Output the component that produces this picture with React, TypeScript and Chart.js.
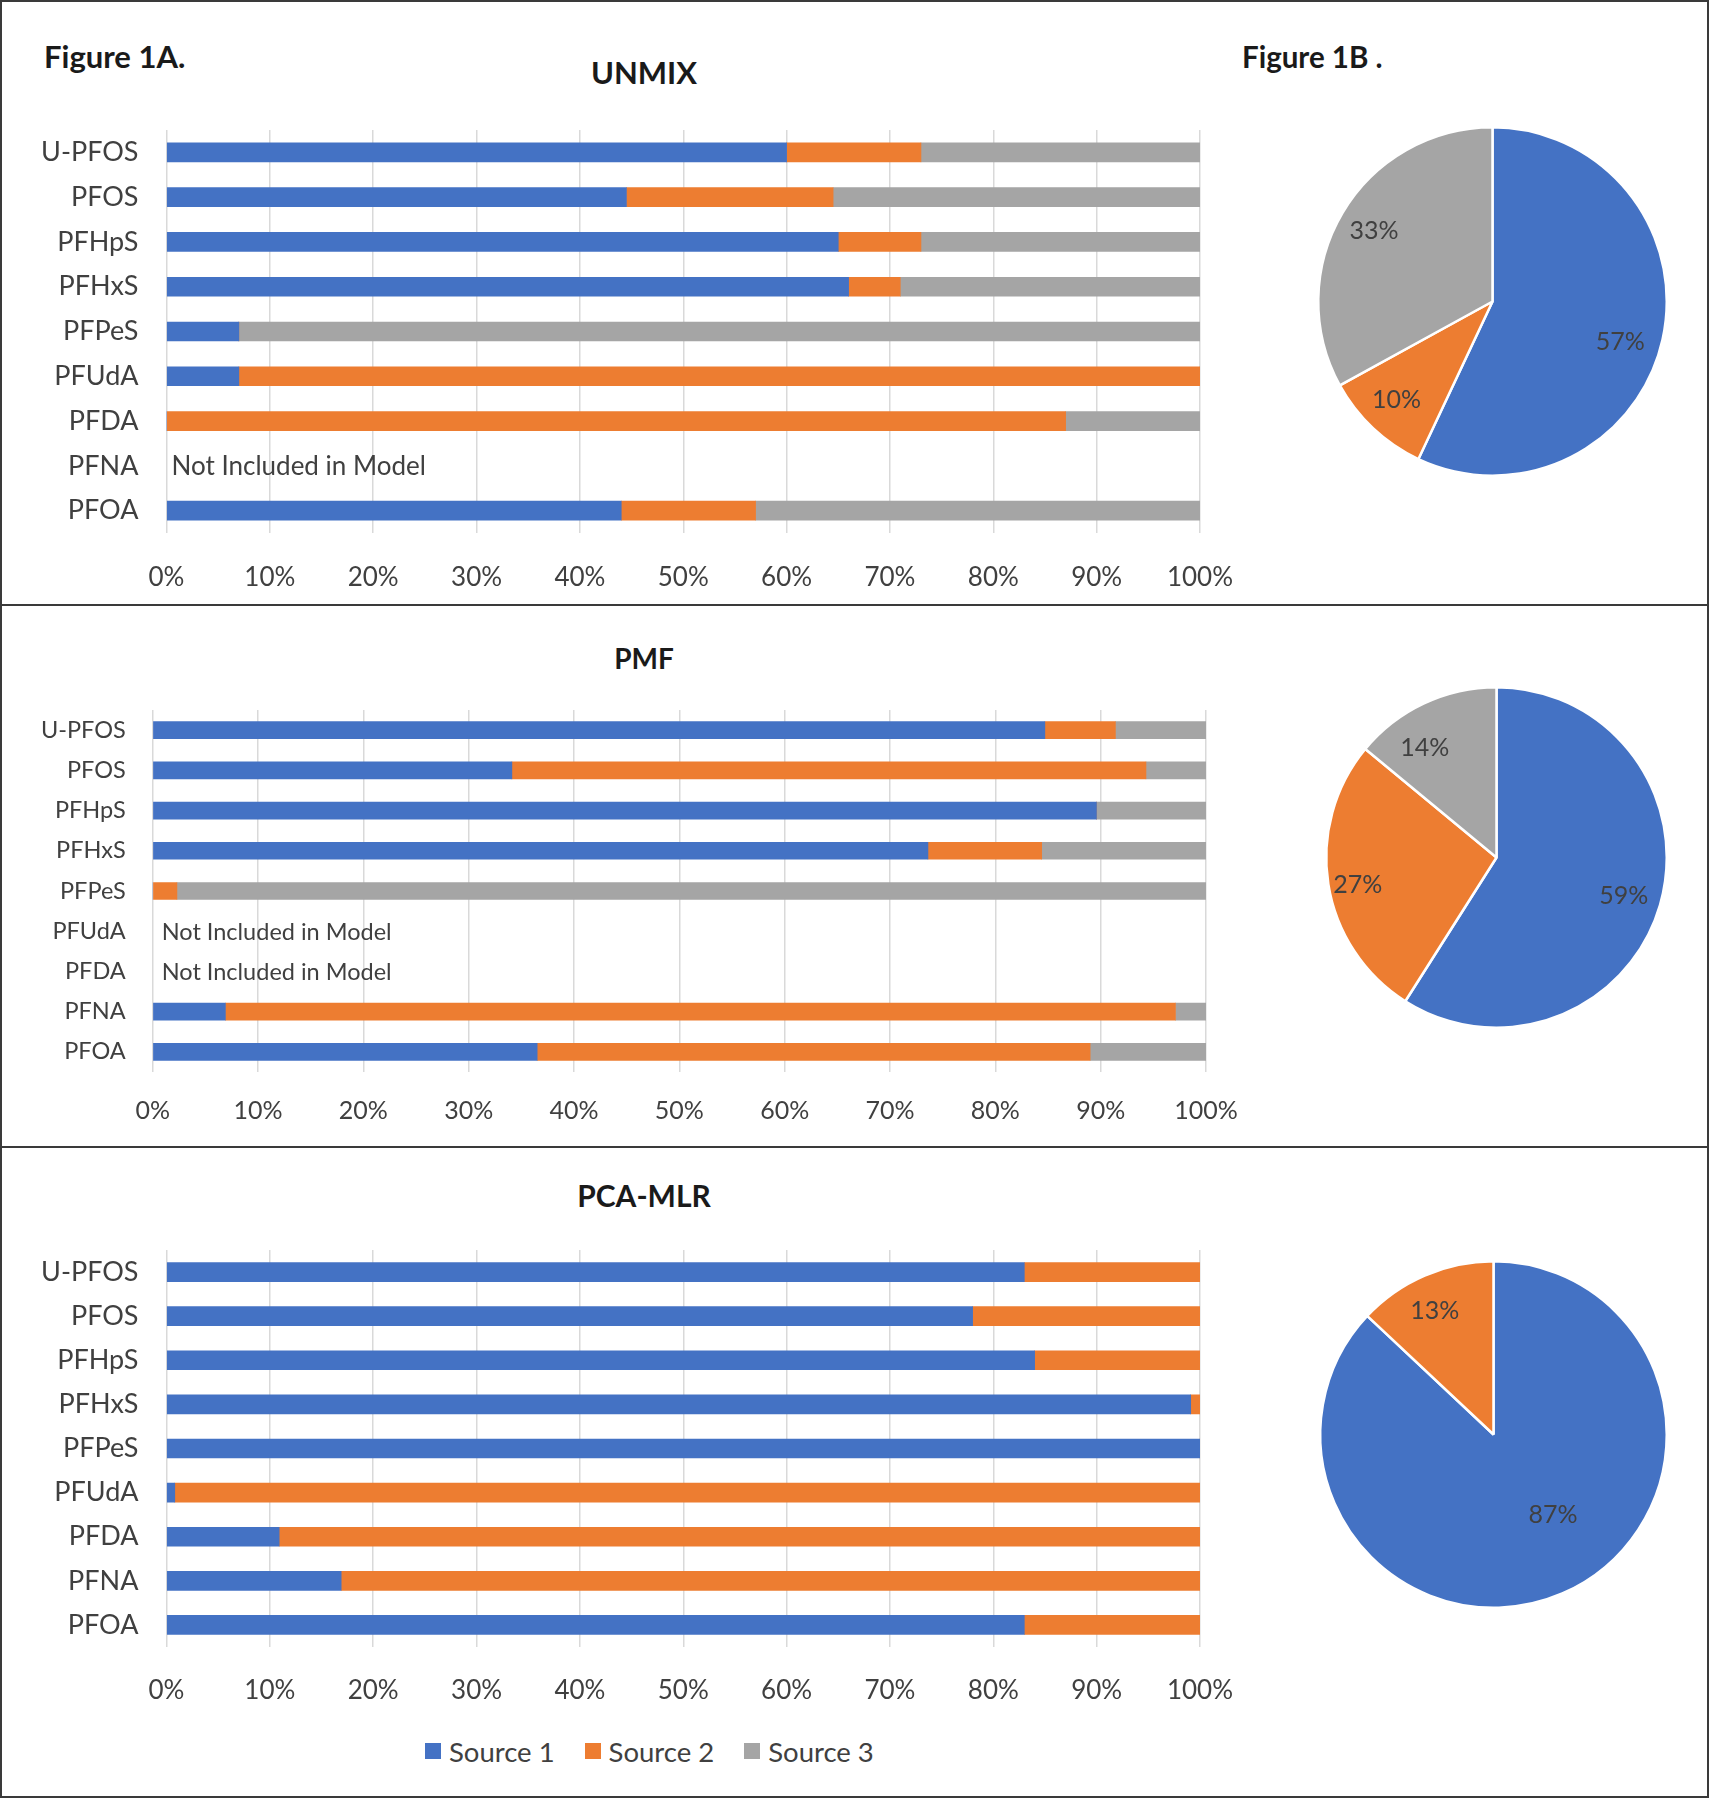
import React, { useEffect, useRef } from 'react';
import { Chart, registerables } from 'chart.js';

Chart.register(...registerables);

// ---------- DATA ----------
const categories = ['U-PFOS', 'PFOS', 'PFHpS', 'PFHxS', 'PFPeS', 'PFUdA', 'PFDA', 'PFNA', 'PFOA'];
const sourceNames = ['Source 1', 'Source 2', 'Source 3'];
const sourceColors = ['#4472C4', '#ED7D31', '#A5A5A5'];
const notIncludedText = 'Not Included in Model';

// UNMIX (percent of each compound)
const unmixSource1 = [60, 44.5, 65, 66, 7, 7, 0, null, 44];
const unmixSource2 = [13, 20, 8, 5, 0, 93, 87, null, 13];
const unmixSource3 = [27, 35.5, 27, 29, 93, 0, 13, null, 43];
const unmixNotIncluded = ['PFNA'];
const unmixPie = [57, 10, 33];

// PMF
const pmfSource1 = [84.7, 34.1, 89.6, 73.6, 0, null, null, 6.9, 36.5];
const pmfSource2 = [6.7, 60.2, 0, 10.8, 2.3, null, null, 90.2, 52.5];
const pmfSource3 = [8.6, 5.7, 10.4, 15.6, 97.7, null, null, 2.9, 11];
const pmfNotIncluded = ['PFUdA', 'PFDA'];
const pmfPie = [59, 27, 14];

// PCA-MLR
const pcaSource1 = [83, 78, 84, 99.1, 100, 0.8, 10.9, 16.9, 83];
const pcaSource2 = [17, 22, 16, 0.9, 0, 99.2, 89.1, 83.1, 17];
const pcaNotIncluded: string[] = [];
const pcaPie = [87, 13];

const FONT = 'Lato, "Open Sans", sans-serif';
const TEXT = '#404040';

type BarSpec = {
  series: (number | null)[][];
  notIncluded: string[];
  chartLeft: number;
  chartRight: number;
  chartTop: number;
  chartH: number;
  labelSize: number;
  tickSize: number;
  xPad: number;
  yPad: number;
  barThickness: number;
  noteSize: number;
  noteOffset: number;
};

const PAD_TOP = 10;
const PAD_RIGHT = 44;
const X_AXIS_H = 80;

function makeBarConfig(s: BarSpec): any {
  const notePlugin = {
    id: 'notIncludedNote',
    afterDatasetsDraw(chart: any) {
      const { ctx, chartArea, scales } = chart;
      ctx.save();
      ctx.font = `${s.noteSize}px ${FONT}`;
      ctx.fillStyle = TEXT;
      ctx.textBaseline = 'middle';
      ctx.textAlign = 'left';
      s.notIncluded.forEach((lab) => {
        const i = categories.indexOf(lab);
        const y = scales.y.getPixelForValue(i);
        ctx.fillText(notIncludedText, chartArea.left + s.noteOffset, y + 1);
      });
      ctx.restore();
    },
  };
  return {
    type: 'bar',
    data: {
      labels: categories,
      datasets: s.series.map((d, i) => ({
        label: sourceNames[i],
        data: d,
        backgroundColor: sourceColors[i],
        borderWidth: 0,
        barThickness: s.barThickness,
      })),
    },
    options: {
      indexAxis: 'y',
      responsive: false,
      animation: false,
      events: [],
      layout: { padding: { top: PAD_TOP, right: PAD_RIGHT, left: 0, bottom: 0 } },
      plugins: { legend: { display: false }, tooltip: { enabled: false }, title: { display: false } },
      scales: {
        x: {
          stacked: true,
          min: 0,
          max: 100,
          ticks: {
            stepSize: 10,
            callback: (v: any) => v + '%',
            color: TEXT,
            font: { family: FONT, size: s.tickSize },
            padding: s.xPad,
            maxRotation: 0,
            autoSkip: false,
          },
          grid: { color: '#D9D9D9', lineWidth: 1.5, drawTicks: false },
          border: { display: false },
          afterFit: (sc: any) => {
            sc.height = X_AXIS_H;
            sc.paddingLeft = 0;
            sc.paddingRight = 0;
          },
        },
        y: {
          stacked: true,
          ticks: {
            color: TEXT,
            font: { family: FONT, size: s.labelSize },
            padding: s.yPad,
            autoSkip: false,
          },
          grid: { display: false, drawTicks: false },
          border: { display: false },
          afterFit: (sc: any) => {
            sc.width = s.chartLeft;
            sc.paddingTop = 0;
            sc.paddingBottom = 0;
          },
        },
      },
    },
    plugins: [notePlugin],
  };
}

type PieSpec = {
  values: number[];
  cx: number;
  cy: number;
  r: number;
  labelRadius: number[];
  labelShiftDeg: number[];
  labelSize: number;
};

const PIE_BORDER = 2.5;

function makePieConfig(p: PieSpec): any {
  const labelPlugin = {
    id: 'pieLabels',
    afterDatasetsDraw(chart: any) {
      const { ctx } = chart;
      const meta = chart.getDatasetMeta(0);
      ctx.save();
      ctx.font = `${p.labelSize}px ${FONT}`;
      ctx.fillStyle = TEXT;
      ctx.textAlign = 'center';
      ctx.textBaseline = 'middle';
      meta.data.forEach((arc: any, i: number) => {
        const { startAngle, endAngle, outerRadius, x, y } = arc.getProps(['startAngle', 'endAngle', 'outerRadius', 'x', 'y'], true);
        const mid = (startAngle + endAngle) / 2 + (p.labelShiftDeg[i] * Math.PI) / 180;
        const rr = outerRadius * p.labelRadius[i];
        ctx.fillText(p.values[i] + '%', x + Math.cos(mid) * rr, y + Math.sin(mid) * rr);
      });
      ctx.restore();
    },
  };
  return {
    type: 'pie',
    data: {
      labels: sourceNames.slice(0, p.values.length),
      datasets: [
        {
          data: p.values,
          backgroundColor: sourceColors.slice(0, p.values.length),
          borderColor: '#FFFFFF',
          borderWidth: PIE_BORDER,
        },
      ],
    },
    options: {
      responsive: false,
      animation: false,
      events: [],
      layout: { padding: 10 },
      plugins: { legend: { display: false }, tooltip: { enabled: false } },
    },
    plugins: [labelPlugin],
  };
}

function ChartCanvas({ config, left, top, width, height }: { config: () => any; left: number; top: number; width: number; height: number }) {
  const ref = useRef<HTMLCanvasElement>(null);
  useEffect(() => {
    const chart = new Chart(ref.current as HTMLCanvasElement, config());
    return () => chart.destroy();
  }, []);
  return (
    <canvas
      ref={ref}
      width={width}
      height={height}
      style={{ position: 'absolute', left, top, width, height, display: 'block' }}
    />
  );
}

function BarChart({ spec }: { spec: BarSpec }) {
  const width = Math.round(spec.chartRight + PAD_RIGHT);
  const height = Math.round(PAD_TOP + spec.chartH + X_AXIS_H);
  return <ChartCanvas config={() => makeBarConfig(spec)} left={0} top={spec.chartTop - PAD_TOP} width={width} height={height} />;
}

function PieChart({ spec }: { spec: PieSpec }) {
  const size = Math.round(spec.r * 2 + 20 + PIE_BORDER);
  return <ChartCanvas config={() => makePieConfig(spec)} left={Math.round(spec.cx - size / 2)} top={Math.round(spec.cy - size / 2)} width={size} height={size} />;
}

function Label({ text, left, cy, size, bold, center }: { text: string; left: number; cy: number; size: number; bold?: boolean; center?: boolean }) {
  const h = size * 1.4;
  return (
    <div
      style={{
        position: 'absolute',
        left: center ? left - 300 : left,
        width: center ? 600 : undefined,
        textAlign: center ? 'center' : 'left',
        top: cy - h / 2,
        height: h,
        lineHeight: `${h}px`,
        fontFamily: FONT,
        fontSize: size,
        fontWeight: bold ? 700 : 400,
        color: '#1a1a1a',
        whiteSpace: 'pre',
      }}
    >
      {text}
    </div>
  );
}

const unmixSpec: BarSpec = {
  series: [unmixSource1, unmixSource2, unmixSource3],
  notIncluded: unmixNotIncluded,
  chartLeft: 166.5,
  chartRight: 1200,
  chartTop: 130,
  chartH: 403,
  labelSize: 27,
  tickSize: 26,
  xPad: 29,
  yPad: 28,
  barThickness: 19,
  noteSize: 26,
  noteOffset: 5,
};

const pmfSpec: BarSpec = {
  series: [pmfSource1, pmfSource2, pmfSource3],
  notIncluded: pmfNotIncluded,
  chartLeft: 152.7,
  chartRight: 1205.7,
  chartTop: 710,
  chartH: 362,
  labelSize: 23.5,
  tickSize: 25,
  xPad: 24,
  yPad: 27,
  barThickness: 17,
  noteSize: 23.5,
  noteOffset: 9,
};

const pcaSpec: BarSpec = {
  series: [pcaSource1, pcaSource2],
  notIncluded: pcaNotIncluded,
  chartLeft: 166.5,
  chartRight: 1200,
  chartTop: 1250,
  chartH: 396.5,
  labelSize: 27,
  tickSize: 26,
  xPad: 28,
  yPad: 28,
  barThickness: 19,
  noteSize: 23,
  noteOffset: 5,
};

const unmixPieSpec: PieSpec = { values: unmixPie, cx: 1492, cy: 301, r: 174, labelRadius: [0.77, 0.79, 0.79], labelShiftDeg: [5, 1, 0], labelSize: 25 };
const pmfPieSpec: PieSpec = { values: pmfPie, cx: 1496, cy: 857, r: 170, labelRadius: [0.78, 0.83, 0.77], labelShiftDeg: [0.5, -2, -8], labelSize: 25 };
const pcaPieSpec: PieSpec = { values: pcaPie, cx: 1493, cy: 1434, r: 173, labelRadius: [0.58, 0.79], labelShiftDeg: [-13, -2], labelSize: 25 };

export default function App() {
  const line = '#3a3a3a';
  return (
    <div style={{ position: 'absolute', left: 0, top: 0, width: 1712, height: 1800, overflow: 'hidden', background: '#fff' }}>
      <div style={{ position: 'absolute', left: 0, top: 0, width: 1709, height: 1798, border: `2px solid ${line}`, boxSizing: 'border-box' }} />
      <div style={{ position: 'absolute', left: 0, top: 604, width: 1709, height: 2, background: line }} />
      <div style={{ position: 'absolute', left: 0, top: 1146, width: 1709, height: 2, background: line }} />

      <Label text="Figure 1A." left={44} cy={57} size={31} bold />
      <Label text="Figure 1B ." left={1242} cy={57} size={29.5} bold />
      <Label text="UNMIX" left={644} cy={73} size={31} bold center />
      <Label text="PMF" left={644} cy={659} size={28} bold center />
      <Label text="PCA-MLR" left={644} cy={1195} size={30} bold center />

      <BarChart spec={unmixSpec} />
      <BarChart spec={pmfSpec} />
      <BarChart spec={pcaSpec} />
      <PieChart spec={unmixPieSpec} />
      <PieChart spec={pmfPieSpec} />
      <PieChart spec={pcaPieSpec} />

      <div style={{ position: 'absolute', left: 425, top: 1751 - 18, height: 36, display: 'flex', alignItems: 'center', fontFamily: FONT, fontSize: 27.5, color: TEXT }}>
        {sourceNames.map((n, i) => (
          <div key={n} style={{ display: 'flex', alignItems: 'center', marginRight: 30 }}>
            <span style={{ display: 'inline-block', width: 16, height: 16, background: sourceColors[i], marginRight: 8 }} />
            <span>{n}</span>
          </div>
        ))}
      </div>
    </div>
  );
}
